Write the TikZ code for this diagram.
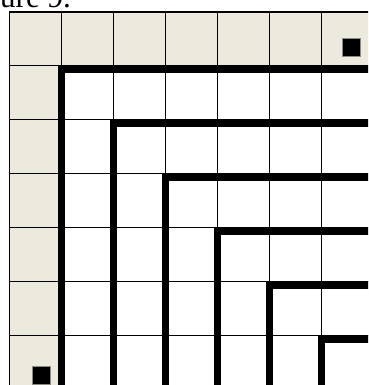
\documentclass[tikz,border=0pt]{standalone}
\usepackage{fontspec}
\setmainfont{Liberation Serif}
\usetikzlibrary{positioning}
\definecolor{headbeige}{HTML}{ECE9DD}
\definecolor{markgray}{HTML}{8A8A80}

\begin{document}
\begin{tikzpicture}[
    x=1pt, y=-1pt,
    gridline/.style={draw=black, line width=1.1pt},
    headcell/.style={fill=headbeige},
    wall/.style={draw=black, line width=7.6pt, line join=miter, line cap=butt},
    marker/.style={fill=black, draw=markgray, line width=0.8pt},
]
\useasboundingbox (0,0) rectangle (368,385);
\clip (0,0) rectangle (368,385);

% Caption (cut off at the top)
\node[anchor=base east, inner sep=0pt, font=\fontsize{31}{31}\selectfont] (caption) at (71,8) {Figure 9.};

% Beige header row and column
\fill[headcell] (9.3,12) rectangle (373.3,66);
\fill[headcell] (9.3,12) rectangle (61.3,390);

% Thin grid
\foreach \i in {0,...,7}
  \draw[gridline] (9.3+52*\i,12) -- (9.3+52*\i,390);
\foreach \j in {0,...,7}
  \draw[gridline] (9.3,12+53.9*\j) -- (373.3,12+53.9*\j);

% Nested thick corners
\foreach \k in {1,...,6}
  \draw[wall] (9.3+52*\k,390) -- (9.3+52*\k,12+53.9*\k+3.7) -- (373.3,12+53.9*\k+3.7);

% Corner markers
\draw[marker] (342.5,38.5) rectangle (360.5,56.5);
\draw[marker] (32,366.3) rectangle (50,384.3);

\end{tikzpicture}
\end{document}
